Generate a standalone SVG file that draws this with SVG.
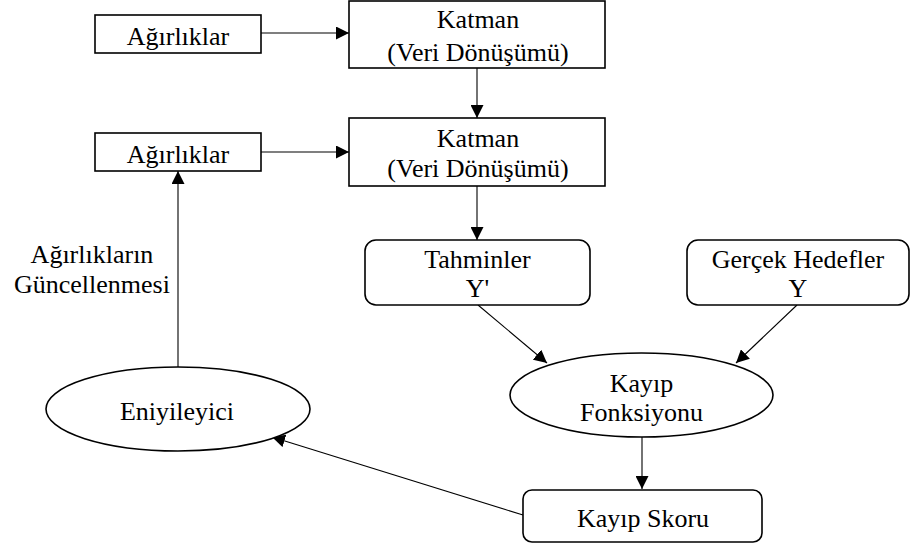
<svg xmlns="http://www.w3.org/2000/svg" width="910" height="549" viewBox="0 0 910 549">
<style>
.n{fill:#fff;stroke:#000;stroke-width:1.6}
.t{font-size:26px;fill:#000;text-anchor:middle}
.c{stroke:#000;stroke-width:1.1;fill:none}
</style>
<defs>
<marker id="ah" markerWidth="13" markerHeight="13" refX="13" refY="6.5" orient="auto" markerUnits="userSpaceOnUse">
<path d="M0,0 L13,6.5 L0,13 Z" fill="#000"/>
</marker>
</defs>
<rect width="910" height="549" fill="#fff"/>
<g id="connectors">
<line class="c" x1="261" y1="33" x2="349" y2="33" marker-end="url(#ah)"/>
<line class="c" x1="477" y1="68" x2="477" y2="118" marker-end="url(#ah)"/>
<line class="c" x1="261" y1="152" x2="349" y2="152" marker-end="url(#ah)"/>
<line class="c" x1="477" y1="186" x2="477" y2="240" marker-end="url(#ah)"/>
<line class="c" x1="478" y1="305" x2="547" y2="363" marker-end="url(#ah)"/>
<line class="c" x1="797" y1="305" x2="736" y2="363" marker-end="url(#ah)"/>
<line class="c" x1="642" y1="437" x2="642" y2="489" marker-end="url(#ah)"/>
<line class="c" x1="523" y1="515" x2="272" y2="437" marker-end="url(#ah)"/>
<line class="c" x1="178" y1="367" x2="178" y2="171" marker-end="url(#ah)"/>
</g>
<g font-family="Liberation Serif, Times New Roman, serif">
<g id="agirliklar1">
<rect class="n" x="95" y="15" width="166" height="38"/>
<text class="t" x="178" y="45">Ağırlıklar</text>
</g>
<g id="katman1">
<rect class="n" x="349" y="1" width="256" height="67"/>
<text class="t" x="478" y="28">Katman</text>
<text class="t" x="478" y="61">(Veri Dönüşümü)</text>
</g>
<g id="agirliklar2">
<rect class="n" x="95" y="133" width="166" height="38"/>
<text class="t" x="178" y="163">Ağırlıklar</text>
</g>
<g id="katman2">
<rect class="n" x="349" y="118" width="256" height="68"/>
<text class="t" x="478" y="147">Katman</text>
<text class="t" x="478" y="177">(Veri Dönüşümü)</text>
</g>
<g id="tahminler">
<rect class="n" x="365" y="240" width="225" height="65" rx="11"/>
<text class="t" x="477.5" y="268">Tahminler</text>
<text class="t" x="477.5" y="297">Y'</text>
</g>
<g id="gercek">
<rect class="n" x="687" y="240" width="222" height="65" rx="11"/>
<text class="t" x="798" y="268">Gerçek Hedefler</text>
<text class="t" x="798" y="297">Y</text>
</g>
<g id="kayip-fonksiyonu">
<ellipse class="n" cx="641.5" cy="395" rx="131.5" ry="42"/>
<text class="t" x="641.5" y="392">Kayıp</text>
<text class="t" x="641.5" y="421">Fonksiyonu</text>
</g>
<g id="kayip-skoru">
<rect class="n" x="523" y="490" width="239" height="52" rx="9"/>
<text class="t" x="643" y="527">Kayıp Skoru</text>
</g>
<g id="eniyileyici">
<ellipse class="n" cx="178" cy="409" rx="132" ry="42"/>
<text class="t" x="177" y="420">Eniyileyici</text>
</g>
<g id="label-guncelleme">
<text class="t" x="92" y="263">Ağırlıkların</text>
<text class="t" x="92" y="293">Güncellenmesi</text>
</g>
</g>
</svg>
